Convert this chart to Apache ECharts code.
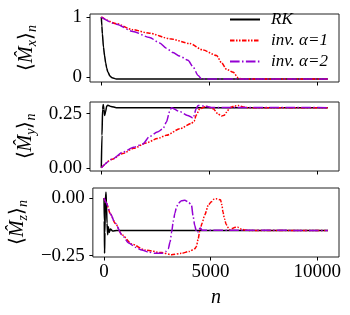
<!DOCTYPE html>
<html><head><meta charset="utf-8">
<script src="https://cdn.jsdelivr.net/npm/echarts@6/dist/echarts.min.js"></script>
<style>html,body{margin:0;padding:0;background:#fff}#c{width:350px;height:315px}</style>
</head><body><div id="c"></div>
<script>
// ---- data ----
const seriesNames = ['RK', 'inv. α=1', 'inv. α=2'];
const xTicks = [0, 5000, 10000];
const xTickLabels = ['0', '5000', '10000'];
const mxTicks = [0, 1];
const mxTickLabels = ['0', '1'];
const myTicks = [0, 0.25];
const myTickLabels = ['0.00', '0.25'];
const mzTicks = [-0.25, 0];
const mzTickLabels = ['\u22120.25', '0.00'];

// <M_x>_n
const rkMx = [[0,1.0],[25,0.85],[50,0.72],[100,0.5],[150,0.36],[200,0.24],[250,0.15],[300,0.09],[400,0.02],[500,-0.01],[700,-0.03],[10500,-0.03]];
const inv1Mx = [[0,1.0],[700,0.89],[1445,0.79],[2237,0.73],[3169,0.64],[4100,0.56],[4722,0.45],[5345,0.36],[5578,0.24],[5810,0.13],[6120,0.08],[6353,-0.01],[6500,-0.03],[10500,-0.03]];
const inv2Mx = [[0,1.0],[700,0.88],[1460,0.76],[2237,0.66],[2703,0.57],[3014,0.48],[3325,0.41],[3635,0.35],[4022,0.28],[4256,0.17],[4489,0.03],[4645,-0.03],[10500,-0.03]];

// <M_y>_n
const rkMy = [[0,0],[30,0.15],[60,0.27],[90,0.293],[120,0.27],[155,0.242],[200,0.26],[250,0.285],[300,0.289],[450,0.283],[700,0.278],[10500,0.278]];
const inv1My = [[0,0],[500,0.04],[993,0.066],[1500,0.09],[2083,0.115],[2600,0.135],[3014,0.15],[3635,0.18],[4180,0.205],[4300,0.215],[4411,0.245],[4567,0.273],[4878,0.284],[5190,0.273],[5400,0.25],[5578,0.239],[5700,0.243],[5810,0.257],[5965,0.278],[6200,0.286],[6353,0.288],[6586,0.281],[6800,0.278],[10500,0.278]];
const inv2My = [[0,0],[500,0.04],[993,0.072],[1500,0.095],[1925,0.11],[2237,0.145],[2600,0.165],[2858,0.18],[3014,0.21],[3170,0.26],[3250,0.278],[3635,0.26],[4000,0.242],[4256,0.23],[4411,0.275],[4489,0.288],[4800,0.285],[5100,0.279],[10500,0.278]];

// <M_z>_n
const rkMz = [[0,0],[10,-0.1],[25,-0.24],[40,-0.15],[60,-0.02],[90,0.025],[110,-0.02],[140,-0.11],[170,-0.16],[200,-0.125],[240,-0.15],[300,-0.135],[400,-0.143],[600,-0.141],[10500,-0.141]];
const inv1Mz = [[0,0],[100,-0.02],[300,-0.07],[527,-0.11],[839,-0.16],[1305,-0.2],[1925,-0.226],[2703,-0.237],[3169,-0.246],[3635,-0.24],[4000,-0.232],[4256,-0.22],[4334,-0.21],[4411,-0.18],[4489,-0.145],[4600,-0.11],[4722,-0.074],[4900,-0.03],[5033,-0.017],[5150,-0.006],[5266,-0.004],[5466,-0.008],[5530,-0.03],[5578,-0.06],[5650,-0.09],[5733,-0.116],[5888,-0.138],[6000,-0.133],[6121,-0.128],[6276,-0.127],[6450,-0.135],[6586,-0.139],[6800,-0.141],[10500,-0.141]];
const inv2Mz = [[0,0],[100,-0.02],[300,-0.07],[527,-0.11],[839,-0.16],[1150,-0.195],[1500,-0.215],[1771,-0.226],[2100,-0.235],[2392,-0.24],[2703,-0.24],[2900,-0.232],[3014,-0.22],[3100,-0.19],[3169,-0.15],[3250,-0.1],[3325,-0.066],[3400,-0.04],[3480,-0.024],[3635,-0.012],[3790,-0.01],[3950,-0.018],[4100,-0.03],[4180,-0.08],[4256,-0.12],[4334,-0.145],[4390,-0.15],[4450,-0.135],[4520,-0.13],[4600,-0.14],[10500,-0.141]];

// ---- chart ----
const FONT = 'Liberation Serif';
const colors = ['#000000', '#ff0000', '#9400d3'];
const dashes = ['solid', [4.5,1.5,1.5,1.5,1.5,1.5], [9.6,2.4,1.5,2.4]];
const panels = [
  {data: [rkMx, inv1Mx, inv2Mx], ticks: mxTicks, labels: mxTickLabels, min: -0.08, max: 1.05, sub: 'x', top: 14, height: 68},
  {data: [rkMy, inv1My, inv2My], ticks: myTicks, labels: myTickLabels, min: -0.0145, max: 0.304, sub: 'y', top: 102, height: 69},
  {data: [rkMz, inv1Mz, inv2Mz], ticks: mzTicks, labels: mzTickLabels, min: -0.256, max: 0.043, sub: 'z', top: 188, height: 69}
];

const grid = [], xAxis = [], yAxis = [], series = [];
panels.forEach((p, i) => {
  grid.push({left: 90, width: 249, top: p.top, height: p.height, show: true, borderColor: '#222', borderWidth: 1, backgroundColor: 'transparent'});
  xAxis.push({
    type: 'value', gridIndex: i, min: -525, max: 11025, position: 'bottom',
    axisLine: {show: false, onZero: false},
    splitLine: {show: false},
    axisTick: {show: true, inside: false, length: 3.5, customValues: xTicks, lineStyle: {color: '#000', width: 1}},
    axisLabel: {show: i === 2, customValues: xTicks, margin: 6, fontFamily: FONT, fontSize: 19, color: '#000',
      formatter: v => xTickLabels[xTicks.indexOf(v)]},
    name: i === 2 ? 'n' : '', nameLocation: 'middle', nameGap: 31,
    nameTextStyle: {fontFamily: FONT, fontStyle: 'italic', fontSize: 20, color: '#000'}
  });
  yAxis.push({
    type: 'value', gridIndex: i, min: p.min, max: p.max, position: 'left',
    axisLine: {show: false, onZero: false},
    splitLine: {show: false},
    axisTick: {show: true, inside: false, length: 3.5, customValues: p.ticks, lineStyle: {color: '#000', width: 1}},
    axisLabel: {show: true, customValues: p.ticks, margin: 8, fontFamily: FONT, fontSize: 19, color: '#000',
      formatter: v => p.labels[p.ticks.findIndex(t => Math.abs(t - v) < 1e-9)]},
    name: '{a|\u27e8}{b|M\u0302}{c|' + p.sub + '}{a|\u27e9}{c|n}',
    nameLocation: 'middle', nameRotate: 90, nameGap: 51,
    nameTextStyle: {
      color: '#000',
      rich: {
        a: {fontFamily: FONT, fontSize: 20, color: '#000', lineHeight: 24, verticalAlign: 'middle'},
        b: {fontFamily: FONT, fontStyle: 'italic', fontSize: 20, color: '#000', lineHeight: 24, verticalAlign: 'middle'},
        c: {fontFamily: FONT, fontStyle: 'italic', fontSize: 14, color: '#000', lineHeight: 14, verticalAlign: 'bottom'}
      }
    }
  });
  p.data.forEach((d, k) => {
    series.push({
      name: seriesNames[k], type: 'line', xAxisIndex: i, yAxisIndex: i,
      data: d, symbol: 'none', smooth: 0.25, smoothMonotone: 'x', animation: false,
      z: 2 + k,
      itemStyle: {color: colors[k]},
      lineStyle: {color: colors[k], width: 1.5, type: dashes[k], cap: 'butt'}
    });
  });
});

const chart = echarts.init(document.getElementById('c'), null, {renderer: 'canvas'});
chart.setOption({
  animation: false,
  backgroundColor: '#fff',
  grid, xAxis, yAxis, series,
  legend: {
    data: seriesNames, orient: 'vertical', left: 224, top: 6,
    itemWidth: 30, itemHeight: 14, itemGap: 4,
    itemStyle: {opacity: 0},
    textStyle: {fontFamily: FONT, fontStyle: 'italic', fontSize: 17, color: '#000', padding: [0, 0, 0, 6]}
  }
});
</script>
</body></html>
